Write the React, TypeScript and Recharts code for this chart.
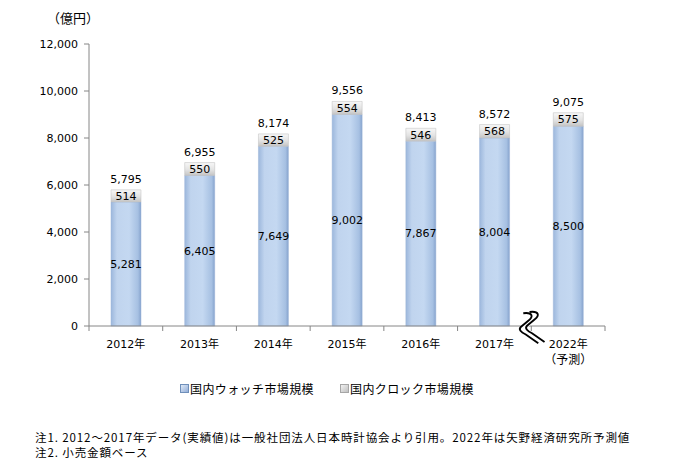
import { BarChart, Bar, XAxis, YAxis, LabelList } from 'recharts'

const years = ['2012年', '2013年', '2014年', '2015年', '2016年', '2017年', '2022年']
const yearNotes = ['', '', '', '', '', '', '（予測）']
const watchSales = [5281, 6405, 7649, 9002, 7867, 8004, 8500]
const clockSales = [514, 550, 525, 554, 546, 568, 575]
const totals = [5795, 6955, 8174, 9556, 8413, 8572, 9075]
const yTicks = [0, 2000, 4000, 6000, 8000, 10000, 12000]
const seriesNames = ['国内ウォッチ市場規模', '国内クロック市場規模']
const notes = [
  '注1. 2012～2017年データ(実績値)は一般社団法人日本時計協会より引用。2022年は矢野経済研究所予測値',
  '注2. 小売金額ベース',
]

const data = years.map((year, i) => ({
  year,
  watch: watchSales[i],
  clock: clockSales[i],
  total: totals[i],
}))

const W = 679
const H = 476
const PLOT_LEFT = 89
const PLOT_RIGHT = 605
const PLOT_TOP = 44
const PLOT_BOTTOM = 326
const band = (PLOT_RIGHT - PLOT_LEFT) / years.length

const NUM_FONT = '"DejaVu Sans", "Noto Sans CJK JP", sans-serif'
const JP_FONT = '"Noto Sans CJK JP", sans-serif'
const AXIS = '#868686'

const fmt = (v: any) => Number(v).toLocaleString('en-US')

// squiggle that marks the gap between 2017 and 2022
function BreakMark({ x, y }: { x: number; y: number }) {
  const d = 'M -4 -11 C 4 -12 4 -8 0 -5 L -6 0 C -8 2 -6 4 -2 6 L 8 13'
  return (
    <g transform={`translate(${x - 3}, ${y + 1}) scale(1.25)`}>
      <path d={d} transform="translate(2.5, -0.5)" stroke="#fff" strokeWidth={5} fill="none" />
      <path d={d} stroke="#000" strokeWidth={1.5} fill="none" />
      <path d={d} transform="translate(5, -1)" stroke="#000" strokeWidth={1.5} fill="none" />
    </g>
  )
}

function YearTick(props: any) {
  const { x, y, index, payload } = props
  const half = band / 2
  const last = index === years.length - 1
  return (
    <g>
      <line x1={x - half} y1={y} x2={x - half} y2={y + 5} stroke={AXIS} />
      {last && <line x1={x + half} y1={y} x2={x + half} y2={y + 5} stroke={AXIS} />}
      <text x={x} y={y + 22} textAnchor="middle" fontSize={11} fontFamily={NUM_FONT} fill="#000">
        {payload.value}
      </text>
      {yearNotes[index] && (
        <text x={x} y={y + 38} textAnchor="middle" fontSize={12} fontFamily={JP_FONT} fill="#000">
          {yearNotes[index]}
        </text>
      )}
      {last && <BreakMark x={x - half} y={y} />}
    </g>
  )
}

function LegendBox() {
  const icons = ['url(#legWatch)', 'url(#legClock)']
  const borders = ['#6f8fba', '#a6a6a6']
  const lefts = [180, 340]
  return (
    <div style={{ position: 'absolute', left: 0, top: 380, width: W, height: 18 }}>
      {seriesNames.map((name, i) => (
        <div
          key={name}
          style={{
            position: 'absolute',
            left: lefts[i],
            top: 0,
            display: 'flex',
            alignItems: 'center',
            fontFamily: JP_FONT,
            fontSize: 12,
            letterSpacing: 0.4,
            color: '#000',
            whiteSpace: 'nowrap',
          }}
        >
          <svg width={9} height={9} style={{ marginRight: 1 }}>
            <rect x={0.5} y={0.5} width={8} height={8} fill={icons[i]} stroke={borders[i]} />
          </svg>
          {name}
        </div>
      ))}
    </div>
  )
}

export default function App() {
  return (
    <div style={{ position: 'absolute', left: 0, top: 0, width: W, height: H, background: '#fff' }}>
      <svg width={0} height={0} style={{ position: 'absolute' }}>
        <defs>
          <linearGradient id="legWatch" x1="0" y1="0" x2="1" y2="1">
            <stop offset="0%" stopColor="#e4edf8" />
            <stop offset="100%" stopColor="#8eaad6" />
          </linearGradient>
          <linearGradient id="legClock" x1="0" y1="0" x2="1" y2="1">
            <stop offset="0%" stopColor="#f4f4f4" />
            <stop offset="100%" stopColor="#bdbdbd" />
          </linearGradient>
        </defs>
      </svg>
      <div
        style={{
          position: 'absolute',
          left: 47,
          top: 8,
          fontFamily: JP_FONT,
          fontSize: 13,
          color: '#000',
        }}
      >
        （億円）
      </div>
      <BarChart
        width={W}
        height={H}
        data={data}
        margin={{ top: PLOT_TOP, left: PLOT_LEFT - 60, right: W - PLOT_RIGHT, bottom: H - PLOT_BOTTOM - 50 }}
        barSize={30}
      >
        <defs>
          <linearGradient id="watchFill" x1="0" y1="0" x2="1" y2="0">
            <stop offset="0%" stopColor="#9cb7dc" />
            <stop offset="20%" stopColor="#c0d4ee" />
            <stop offset="60%" stopColor="#c4d8f1" />
            <stop offset="90%" stopColor="#a6c0e2" />
            <stop offset="100%" stopColor="#86a3cd" />
          </linearGradient>
          <linearGradient id="clockFill" x1="0" y1="0" x2="0" y2="1">
            <stop offset="0%" stopColor="#f7f7f7" />
            <stop offset="55%" stopColor="#e3e3e3" />
            <stop offset="100%" stopColor="#c4c4c4" />
          </linearGradient>
        </defs>
        <YAxis
          width={60}
          domain={[0, 12000]}
          ticks={yTicks}
          interval={0}
          tickFormatter={fmt}
          stroke={AXIS}
          tickSize={5}
          tickMargin={6}
          tick={{ fontSize: 11, fontFamily: NUM_FONT, fill: '#000' }}
        />
        <XAxis
          dataKey="year"
          height={50}
          stroke={AXIS}
          tickLine={false}
          tickSize={0}
          tickMargin={0}
          interval={0}
          tick={<YearTick />}
        />
        <Bar
          dataKey="watch"
          stackId="a"
          name={seriesNames[0]}
          fill="url(#watchFill)"
          stroke="#9db5d8"
          strokeWidth={0.5}
          isAnimationActive={false}
        >
          <LabelList
            dataKey="watch"
            position="center"
            formatter={fmt}
            style={{ fontSize: 11, fontFamily: NUM_FONT, fill: '#000' }}
          />
        </Bar>
        <Bar
          dataKey="clock"
          stackId="a"
          name={seriesNames[1]}
          fill="url(#clockFill)"
          stroke="#bcbcbc"
          strokeWidth={0.5}
          isAnimationActive={false}
        >
          <LabelList
            dataKey="clock"
            position="center"
            formatter={fmt}
            style={{ fontSize: 11, fontFamily: NUM_FONT, fill: '#000' }}
          />
          <LabelList
            dataKey="total"
            position="top"
            offset={7}
            formatter={fmt}
            style={{ fontSize: 11, fontFamily: NUM_FONT, fill: '#000' }}
          />
        </Bar>
      </BarChart>
      <LegendBox />
      {notes.map((n, i) => (
        <div
          key={n}
          style={{
            position: 'absolute',
            left: 35,
            top: 430 + i * 15,
            fontFamily: JP_FONT,
            fontSize: 11.5,
            lineHeight: '14px',
            letterSpacing: 0.9,
            color: '#000',
            whiteSpace: 'nowrap',
          }}
        >
          {n}
        </div>
      ))}
    </div>
  )
}
